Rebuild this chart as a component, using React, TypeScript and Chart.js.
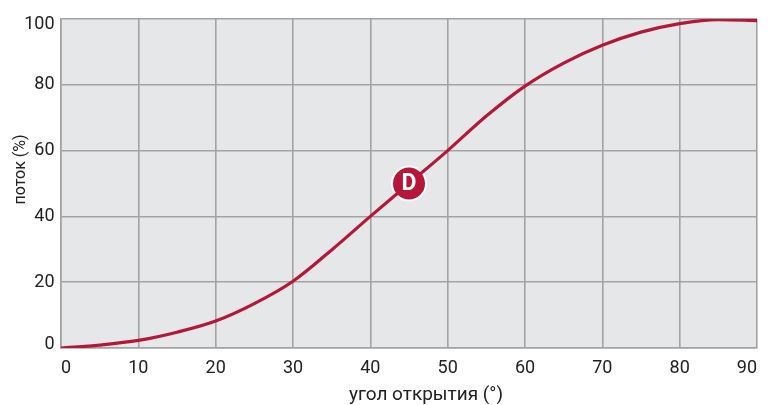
import React, { useEffect, useRef } from "react";
import { Chart, registerables } from "chart.js";

Chart.register(...registerables);

const angles = [0, 5, 10, 15, 20, 25, 30, 35, 40, 45, 50, 55, 60, 65, 70, 75, 80, 85, 90];
const flow = [0, 0.9, 2.3, 4.8, 8.2, 13.5, 20.3, 29.8, 40, 50, 60, 70.5, 79.6, 86.6, 92, 96, 98.6, 99.8, 99.5];
const yTicks = [0, 20, 40, 60, 80, 100];
const markerAngle = [45];
const markerFlow = [50];
const markerLabel = "D";
const xTitle = "угол открытия (°)";
const yTitle = "поток (%)";

const RED = "#b5173a";
const GRID = "#a3a3a3";
const TEXT = "#222222";
const FONT = "Roboto, 'Noto Sans', sans-serif";

const overlay = {
  id: "overlay",
  afterDraw(chart: any) {
    const ctx = chart.ctx;
    const area = chart.chartArea;
    const ys = chart.scales.y;
    ctx.save();
    // marker letter
    const meta = chart.getDatasetMeta(1);
    ctx.fillStyle = "#ffffff";
    ctx.font = `bold 23px ${FONT}`;
    ctx.textAlign = "center";
    ctx.textBaseline = "middle";
    meta.data.forEach((pt: any) => ctx.fillText(markerLabel, pt.x, pt.y + 1));
    // y tick labels (first/last kept inside the plot height)
    ctx.fillStyle = TEXT;
    ctx.font = `18px ${FONT}`;
    ctx.textAlign = "right";
    yTicks.forEach((v, i) => {
      let y = ys.getPixelForValue(v);
      if (i === 0) y -= 4;
      if (i === yTicks.length - 1) y += 5;
      ctx.fillText(String(v), area.left - 6.5, y);
    });
    // x title
    ctx.font = `19px ${FONT}`;
    ctx.textAlign = "center";
    ctx.textBaseline = "alphabetic";
    ctx.fillText(xTitle, (area.left + area.right) / 2 + 17, 400);
    // y title
    ctx.font = `16px ${FONT}`;
    ctx.translate(21, (area.top + area.bottom) / 2 - 14);
    ctx.rotate(-Math.PI / 2);
    ctx.textBaseline = "middle";
    ctx.fillText(yTitle, 0, 0);
    ctx.restore();
  },
};

export default function App() {
  const ref = useRef<HTMLCanvasElement | null>(null);
  useEffect(() => {
    document.body.style.margin = "0";
    const chart = new Chart(ref.current!, {
      type: "scatter",
      data: {
        datasets: [
          {
            data: angles.map((a, i) => ({ x: a, y: flow[i] })),
            showLine: true,
            borderColor: RED,
            borderWidth: 3.2,
            pointRadius: 0,
            cubicInterpolationMode: "monotone",
          },
          {
            data: markerAngle.map((a, i) => ({ x: a, y: markerFlow[i] })),
            pointRadius: 17,
            pointBackgroundColor: RED,
            pointBorderColor: "#ffffff",
            pointBorderWidth: 2,
          },
        ],
      },
      options: {
        animation: false,
        responsive: false,
        layout: { padding: { top: 13.5, right: 17, left: 0, bottom: 0 } },
        plugins: { legend: { display: false }, tooltip: { enabled: false } },
        scales: {
          x: {
            type: "linear",
            min: 0,
            max: 90,
            ticks: {
              stepSize: 10,
              align: "inner",
              padding: 10,
              color: TEXT,
              font: { family: FONT, size: 18 },
            },
            grid: { color: GRID, lineWidth: 1.6, drawTicks: false },
            border: { color: GRID, width: 1.6 },
            afterFit(scale: any) {
              scale.height = 57;
            },
          },
          y: {
            min: 0,
            max: 100,
            ticks: { stepSize: 20, display: false },
            grid: { color: GRID, lineWidth: 1.6, drawTicks: false },
            border: { color: GRID, width: 1.6 },
            afterFit(scale: any) {
              scale.width = 61;
            },
          },
        },
      },
      plugins: [
        {
          id: "bg",
          beforeDraw(c: any) {
            const { left, top, width, height } = c.chartArea;
            c.ctx.save();
            c.ctx.fillStyle = "#e6e7e9";
            c.ctx.fillRect(left, top, width, height);
            c.ctx.restore();
          },
        },
        overlay,
      ],
    } as any);
    return () => chart.destroy();
  }, []);
  return (
    <div style={{ width: 776, height: 405 }}>
      <canvas ref={ref} width={776} height={405} style={{ display: "block" }} />
    </div>
  );
}
